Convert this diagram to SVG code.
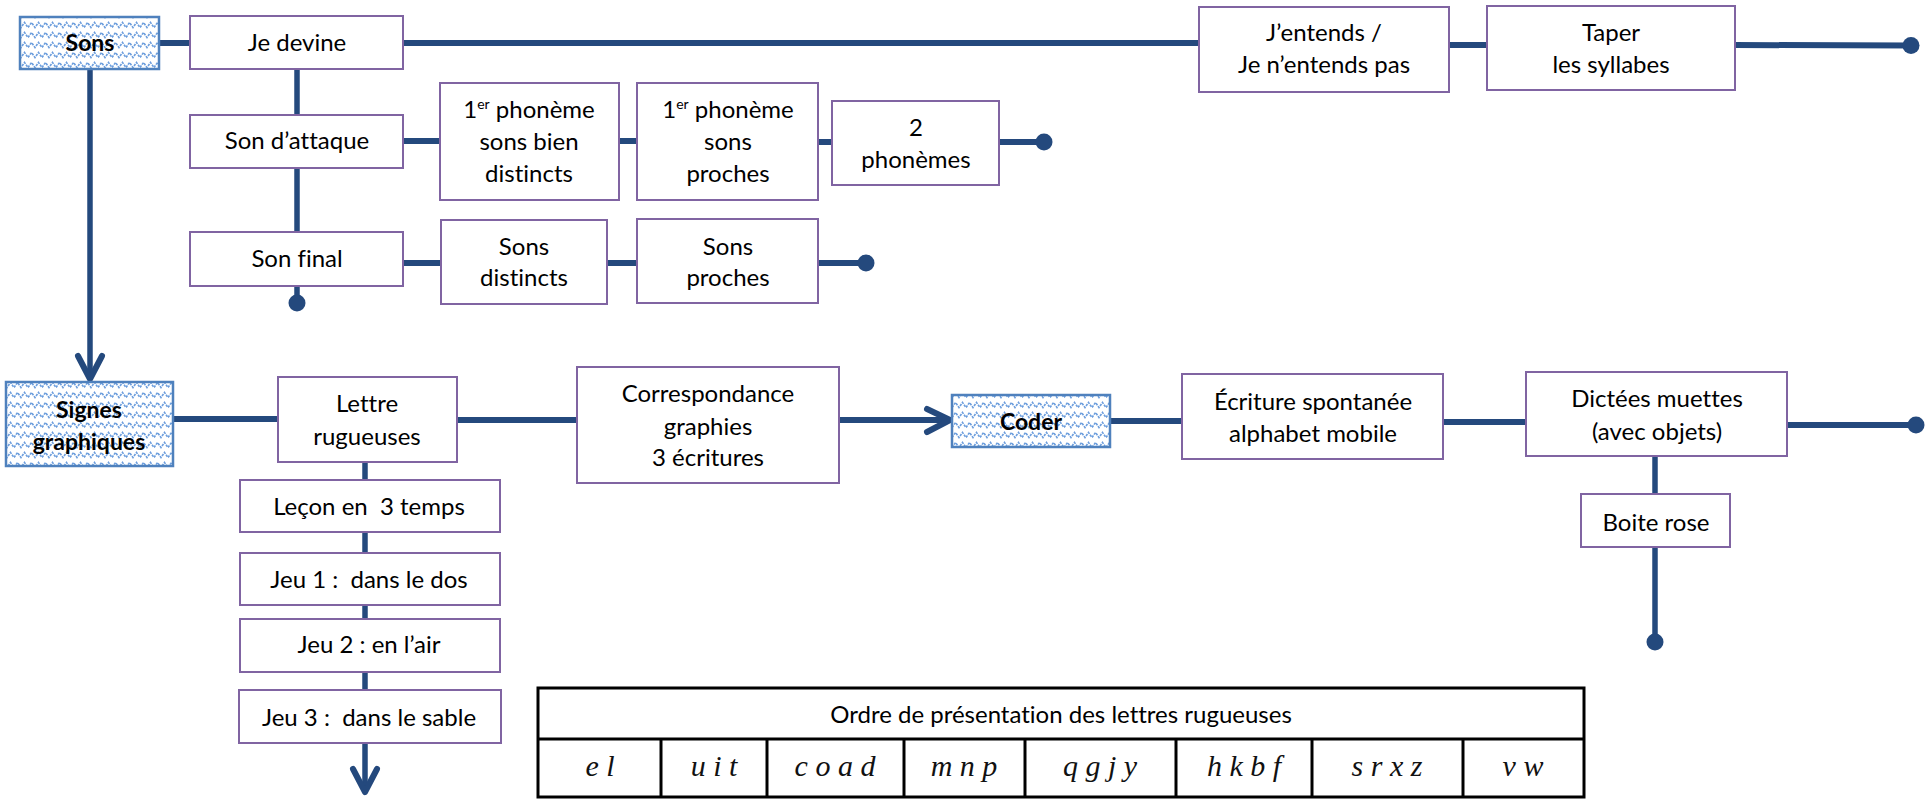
<svg xmlns="http://www.w3.org/2000/svg" width="1926" height="799" viewBox="0 0 1926 799">
<defs>
<pattern id="wave" width="14" height="10" patternUnits="userSpaceOnUse">
<rect width="14" height="10" fill="#ffffff"/>
<path d="M0 7.5 L3.5 2.5 L7 7.5 L10.5 2.5 L14 7.5" fill="none" stroke="#6b9ddd" stroke-width="1.6" stroke-dasharray="2.5 1"/>
</pattern>
</defs>
<style>
.box{fill:#ffffff;stroke:#8064a2;stroke-width:2}
.pbox{fill:url(#wave);stroke:#4f81bd;stroke-width:2.5}
.ln{fill:none;stroke:#24497d;stroke-width:6}
.lv{fill:none;stroke:#24497d;stroke-width:5.5}
.arr{fill:none;stroke:#24497d;stroke-width:6;stroke-linecap:round;stroke-linejoin:round}
.dot{fill:#24497d}
text{font-family:Lato,"Liberation Sans",sans-serif;font-size:24px;fill:#000;text-anchor:middle;white-space:pre;font-variant-ligatures:none;font-feature-settings:"liga" 0}
.b{font-weight:bold;font-size:23px}
.sup{font-size:14px}
.tb{fill:none;stroke:#000;stroke-width:3}
.cur{font-family:"Liberation Serif","DejaVu Serif",serif;font-style:italic;font-size:30px;fill:#111}
</style>
<g id="connectors">
<line class="ln" x1="159" y1="43" x2="190" y2="43"/>
<line class="ln" x1="403" y1="43" x2="1199" y2="43"/>
<line class="ln" x1="1449" y1="45" x2="1487" y2="45"/>
<line class="ln" x1="1735" y1="45" x2="1911" y2="45.5"/>
<circle class="dot" cx="1911" cy="45.5" r="8.5"/>
<line class="lv" x1="297" y1="69" x2="297" y2="303"/>
<circle class="dot" cx="297" cy="303" r="8.5"/>
<line class="ln" x1="403" y1="141" x2="440" y2="141"/>
<line class="ln" x1="619" y1="141" x2="637" y2="141"/>
<line class="ln" x1="818" y1="142" x2="832" y2="142"/>
<line class="ln" x1="999" y1="142" x2="1044" y2="142"/>
<circle class="dot" cx="1044" cy="142" r="8.5"/>
<line class="ln" x1="403" y1="263" x2="441" y2="263"/>
<line class="ln" x1="607" y1="263" x2="637" y2="263"/>
<line class="ln" x1="818" y1="263" x2="866" y2="263"/>
<circle class="dot" cx="866" cy="263" r="8.5"/>
<line class="lv" x1="90" y1="69" x2="90" y2="378"/>
<polyline class="arr" points="78,356 90,379 102,356"/>
<line class="ln" x1="173" y1="419" x2="278" y2="419"/>
<line class="ln" x1="457" y1="420" x2="577" y2="420"/>
<line class="ln" x1="839" y1="420" x2="948" y2="420"/>
<polyline class="arr" points="927,409 950,420 927,432"/>
<line class="ln" x1="1110" y1="421" x2="1182" y2="421"/>
<line class="ln" x1="1443" y1="422" x2="1526" y2="422"/>
<line class="ln" x1="1787" y1="425" x2="1916" y2="425"/>
<circle class="dot" cx="1916" cy="425" r="8.5"/>
<line class="lv" x1="1655" y1="456" x2="1655" y2="642"/>
<circle class="dot" cx="1655" cy="642" r="8.5"/>
<line class="lv" x1="365" y1="462" x2="365" y2="790"/>
<polyline class="arr" points="353,769 365,792 377,769"/>
</g>
<g id="sons"><rect class="pbox" x="20" y="17" width="139" height="52"/><text class="b" x="90" y="51">Sons</text></g>
<g id="je-devine"><rect class="box" x="190" y="16" width="213" height="53"/><text x="297" y="51">Je devine</text></g>
<g id="son-attaque"><rect class="box" x="190" y="115" width="213" height="53"/><text x="297" y="149">Son d’attaque</text></g>
<g id="son-final"><rect class="box" x="190" y="232" width="213" height="54"/><text x="297" y="267">Son final</text></g>
<g id="phoneme-distincts"><rect class="box" x="440" y="83" width="179" height="117"/>
<text x="529" y="118">1<tspan class="sup" dy="-9">er</tspan><tspan dy="9"> phonème</tspan></text>
<text x="529" y="150">sons bien</text><text x="529" y="182">distincts</text></g>
<g id="phoneme-proches"><rect class="box" x="637" y="83" width="181" height="117"/>
<text x="728" y="118">1<tspan class="sup" dy="-9">er</tspan><tspan dy="9"> phonème</tspan></text>
<text x="728" y="150">sons</text><text x="728" y="182">proches</text></g>
<g id="deux-phonemes"><rect class="box" x="832" y="101" width="167" height="84"/>
<text x="916" y="136">2</text><text x="916" y="168">phonèmes</text></g>
<g id="sons-distincts"><rect class="box" x="441" y="220" width="166" height="84"/>
<text x="524" y="255">Sons</text><text x="524" y="286">distincts</text></g>
<g id="sons-proches"><rect class="box" x="637" y="219" width="181" height="84"/>
<text x="728" y="255">Sons</text><text x="728" y="286">proches</text></g>
<g id="jentends"><rect class="box" x="1199" y="7" width="250" height="85"/>
<text x="1324" y="41">J’entends /</text><text x="1324" y="73">Je n’entends pas</text></g>
<g id="taper"><rect class="box" x="1487" y="6" width="248" height="84"/>
<text x="1611" y="41">Taper</text><text x="1611" y="73">les syllabes</text></g>
<g id="signes"><rect class="pbox" x="6" y="382" width="167" height="84"/>
<text class="b" x="89" y="418">Signes</text><text class="b" x="89" y="450">graphiques</text></g>
<g id="lettre"><rect class="box" x="278" y="377" width="179" height="85"/>
<text x="367" y="412">Lettre</text><text x="367" y="445">rugueuses</text></g>
<g id="lecon"><rect class="box" x="240" y="480" width="260" height="52"/><text x="369" y="515">Leçon en  3 temps</text></g>
<g id="jeu1"><rect class="box" x="240" y="553" width="260" height="52"/><text x="369" y="588">Jeu 1 :  dans le dos</text></g>
<g id="jeu2"><rect class="box" x="240" y="619" width="260" height="53"/><text x="369" y="653">Jeu 2 : en l’air</text></g>
<g id="jeu3"><rect class="box" x="239" y="690" width="262" height="53"/><text x="369" y="726">Jeu 3 :  dans le sable</text></g>
<g id="correspondance"><rect class="box" x="577" y="367" width="262" height="116"/>
<text x="708" y="402">Correspondance</text><text x="708" y="435">graphies</text><text x="708" y="466">3 écritures</text></g>
<g id="coder"><rect class="pbox" x="952" y="395" width="158" height="52"/><text class="b" x="1031" y="430">Coder</text></g>
<g id="ecriture"><rect class="box" x="1182" y="374" width="261" height="85"/>
<text x="1313" y="410">Écriture spontanée</text><text x="1313" y="442">alphabet mobile</text></g>
<g id="dictees"><rect class="box" x="1526" y="372" width="261" height="84"/>
<text x="1657" y="407">Dictées muettes</text><text x="1657" y="440">(avec objets)</text></g>
<g id="boite-rose"><rect class="box" x="1581" y="494" width="149" height="53"/><text x="1656" y="531">Boite rose</text></g>
<g id="table">
<rect class="tb" x="538" y="688" width="1046" height="109"/>
<line class="tb" x1="538" y1="739" x2="1584" y2="739"/>
<line class="tb" x1="661" y1="739" x2="661" y2="797"/>
<line class="tb" x1="767" y1="739" x2="767" y2="797"/>
<line class="tb" x1="904" y1="739" x2="904" y2="797"/>
<line class="tb" x1="1025" y1="739" x2="1025" y2="797"/>
<line class="tb" x1="1176" y1="739" x2="1176" y2="797"/>
<line class="tb" x1="1312" y1="739" x2="1312" y2="797"/>
<line class="tb" x1="1463" y1="739" x2="1463" y2="797"/>
<text x="1061" y="723">Ordre de présentation des lettres rugueuses</text>
<text class="cur" x="600" y="776">e l</text>
<text class="cur" x="714" y="776">u i t</text>
<text class="cur" x="835" y="776">c o a d</text>
<text class="cur" x="964" y="776">m n p</text>
<text class="cur" x="1100" y="776">q g j y</text>
<text class="cur" x="1244" y="776">h k b f</text>
<text class="cur" x="1387" y="776">s r x z</text>
<text class="cur" x="1523" y="776">v w</text>
</g>
</svg>
